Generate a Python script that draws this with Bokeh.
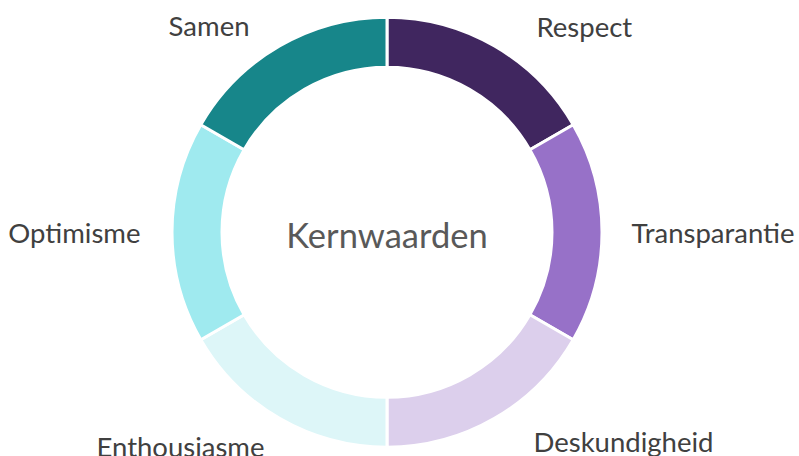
import math
from bokeh.plotting import figure
from bokeh.models import Range1d, ColumnDataSource
from bokeh.core.properties import value
from bokeh.embed import file_html
from bokeh.resources import INLINE

# ---- data ----
categories = ["Respect", "Transparantie", "Deskundigheid", "Enthousiasme", "Optimisme", "Samen"]
values = [1, 1, 1, 1, 1, 1]
colors = ["#40265F", "#9771C8", "#DCCFEC", "#DDF6F8", "#9FEAEF", "#17868A"]
center_title = "Kernwaarden"

# ---- layout (figure pixel coords; data y = H - pixel y) ----
W, H = 799, 456
cx, cy = 386.5, 231.7
r_out, r_in = 215, 165

total = sum(values)
starts, ends = [], []
acc = 0.0
for v in values:
    a0 = math.pi / 2 - 2 * math.pi * acc / total
    acc += v
    a1 = math.pi / 2 - 2 * math.pi * acc / total
    starts.append(a0)
    ends.append(a1)

src = ColumnDataSource(dict(cat=categories, start=starts, end=ends, color=colors))

p = figure(width=W, height=H, output_backend="svg", toolbar_location=None,
           x_range=Range1d(0, W), y_range=Range1d(0, H), min_border=0)
p.axis.visible = False
p.grid.visible = False
p.outline_line_color = None

p.annular_wedge(x=cx, y=H - cy, inner_radius=r_in, outer_radius=r_out,
                start_angle="start", end_angle="end", direction="clock",
                fill_color="color", line_color="white", line_width=3, source=src)

# label placement (anchor in pixel coords, vertical middle of text, alignment)
lab_x = [536, 631, 533, 264, 140, 249]
lab_y = [26, 232, 441, 446, 232, 25]
lab_align = ["left", "left", "left", "right", "right", "right"]
lsrc = ColumnDataSource(dict(x=lab_x, y=[H - y for y in lab_y], t=categories, a=lab_align))
p.text(x="x", y="y", text="t", text_align="a", text_baseline="middle",
       text_font=value("Lato"), text_font_size="27.5px", text_color="#404040", source=lsrc)

p.text(x=[cx], y=[H - 234], text=[center_title], text_align="center", text_baseline="middle",
       text_font=value("Lato"), text_font_size="34.5px", text_color="#595959")

open("out.html", "w").write(file_html(p, INLINE))
